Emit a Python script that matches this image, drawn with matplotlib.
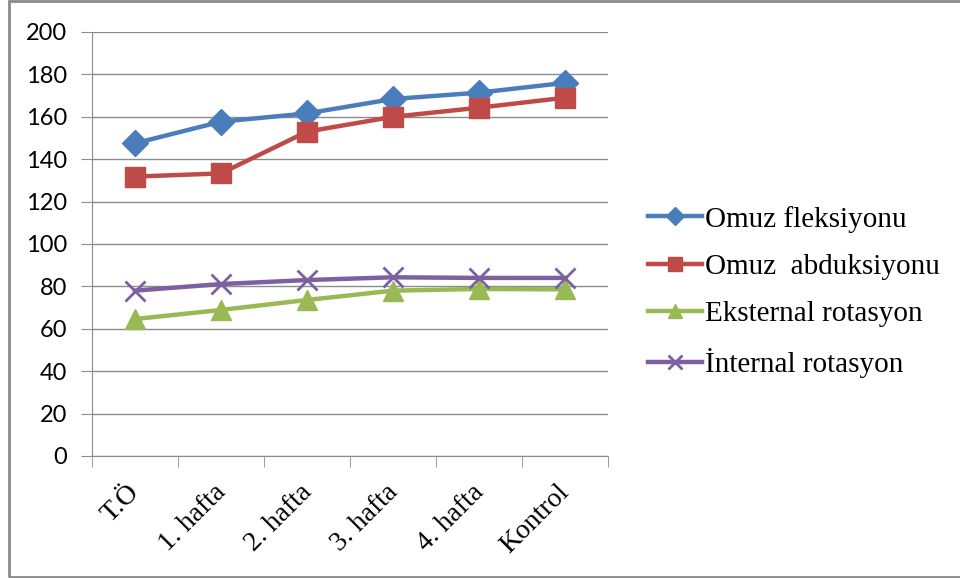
import matplotlib.pyplot as plt
from matplotlib.patches import Rectangle
from matplotlib.transforms import ScaledTranslation
import numpy as np

categories = ['T.Ö', '1. hafta', '2. hafta', '3. hafta', '4. hafta', 'Kontrol']
fleksiyon = [147.5, 157.7, 161.6, 168.4, 171.4, 176]
abduksiyon = [131.8, 133.3, 153, 160, 164.3, 169]
eksternal = [64.6, 68.9, 73.6, 78, 78.8, 78.6]
internal = [78, 81.1, 83, 84.3, 84, 84]
labels = ['Omuz fleksiyonu', 'Omuz  abduksiyonu', 'Eksternal rotasyon', 'İnternal rotasyon']

fig = plt.figure(figsize=(9.6, 5.78), dpi=100)
ax = fig.add_axes([92/960, 1-456/578, (608-92)/960, (456-32)/578])

# rahmen um die ganze grafik
fig.patches.append(Rectangle((9/960, 1/578), 1.2, 576/578, transform=fig.transFigure,
                             fill=False, edgecolor='#8a8a8a', linewidth=2))

x = np.arange(len(categories))
ax.plot(x, fleksiyon, color='#4A7EBB', lw=3.2, marker='D', ms=13, label=labels[0])
ax.plot(x, abduksiyon, color='#BE4B48', lw=3.2, marker='s', ms=15, label=labels[1])
ax.plot(x, eksternal, color='#98B954', lw=3.2, marker='^', ms=15, label=labels[2])
ax.plot(x, internal, color='#7D60A0', lw=3.2, marker='x', ms=14, mew=2, label=labels[3])

ax.set_xlim(-0.5, 5.5)
ax.set_ylim(0, 200)
ax.set_yticks(range(0, 201, 20))
ax.yaxis.grid(True, color='#8c8c8c', lw=1)
ax.set_axisbelow(True)
for s in ['top', 'right']:
    ax.spines[s].set_visible(False)
for s in ['left', 'bottom']:
    ax.spines[s].set_color('#8c8c8c')

# kategorie-beschriftungen als text, schraeg und etwas nach unten/links versetzt
ax.set_xticks(x)
ax.set_xticklabels([])
shift = ScaledTranslation(-8/100, -24/100, fig.dpi_scale_trans)
for i, cat in enumerate(categories):
    ax.text(i, 0, cat, transform=ax.get_xaxis_transform() + shift, rotation=45,
            ha='right', va='top', rotation_mode='anchor',
            fontfamily='Liberation Serif', fontsize=20)
ax.set_xticks(np.arange(-0.5, 6, 1), minor=True)
ax.tick_params(axis='x', which='major', length=0)
ax.tick_params(axis='x', which='minor', length=8, color='#8c8c8c')
ax.tick_params(axis='y', length=8, color='#8c8c8c', pad=10)
for t in ax.get_yticklabels():
    t.set_fontfamily('Lato')
    t.set_fontsize(17)

ax.legend(loc='center left', bbox_to_anchor=(648/960, 1-292/578), bbox_transform=fig.transFigure,
          frameon=False, prop={'family': 'Liberation Serif', 'size': 21},
          markerscale=0.7, handlelength=1.85, handletextpad=0.1, labelspacing=0.72,
          borderpad=0, borderaxespad=0)

fig.savefig('out.png', dpi=100)
